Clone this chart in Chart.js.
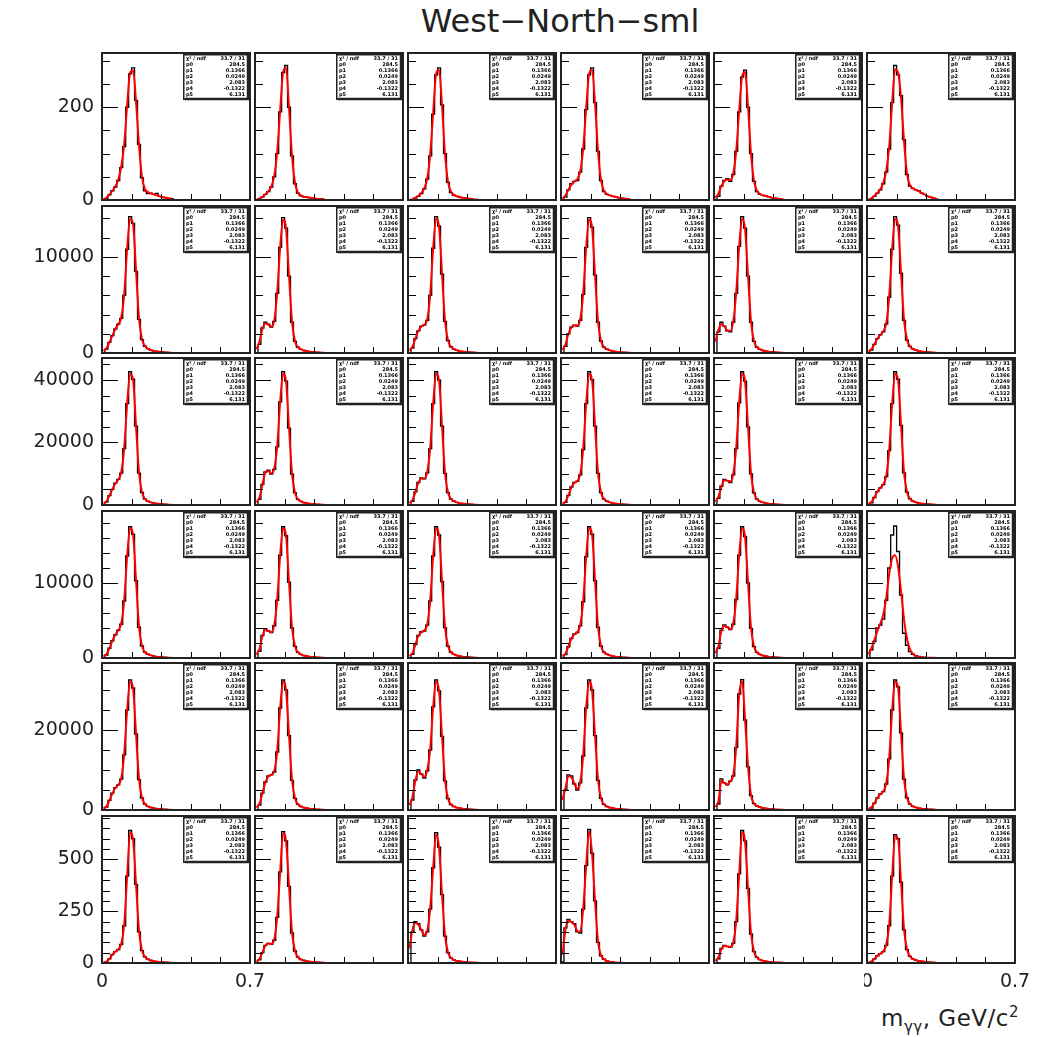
<!DOCTYPE html>
<html>
<head>
<meta charset="utf-8">
<script src="https://cdn.jsdelivr.net/npm/chart.js@4.4.1/dist/chart.umd.min.js"></script>
<style>
  body { margin: 0; background: #fff; width: 1043px; height: 1037px; position: relative; overflow: hidden; font-family: "DejaVu Sans", sans-serif; }
  canvas { position: absolute; }
  #title { position: absolute; left: 560px; top: 5px; transform: translateX(-50%); font-size: 32px; line-height: 32px; color: #222; white-space: nowrap; }
  #xtitle { position: absolute; right: 24px; top: 1007px; font-size: 23px; line-height: 23px; letter-spacing: 0.5px; color: #222; white-space: nowrap; }
  #xtitle sub, #xtitle sup { font-size: 15px; line-height: 0; }
</style>
</head>
<body>
<div id="title">West−North−sml</div>
<div id="xtitle">m<sub>γγ</sub>, GeV/c<sup>2</sup></div>
<script>
// binning and axes
const BIN_W = 0.014;
const X_MIN = 0, X_MAX = 0.7;
const xMinorTicks = [0.14, 0.28, 0.42, 0.56];
const xLabelValues = [0, 0.7];
const xLabelTexts = ["0", "0.7"];
const rowMax = [317, 15300, 47000, 19600, 36750, 710];
const rowMajor = [200, 10000, 20000, 10000, 20000, 250];
const rowMinor = [50, 2000, 5000, 2000, 5000, 50];
const rowLabels = [[0, 200], [0, 10000], [0, 20000, 40000], [0, 10000], [0, 20000], [0, 250, 500]];
const statNames = ["χ² / ndf", "p0", "p1", "p2", "p3", "p4", "p5"];
const statValues = ["33.7 / 31", "284.5", "0.1366", "0.0249", "2.083", "-0.1322", "6.131"];

// row 1
const hist_1_1 = [0,3,11,20,28,42,70,115,200,272,285,215,120,48,20,14,15,12,14,8,6,5,3,3];
const fit_1_1  = [1,5,12,20,29,44,72,120,205,275,280,212,118,50,24,17,14,12,10,8,6,5,4,3];
const hist_1_2 = [0,2,6,12,18,28,50,100,190,275,290,200,95,35,15,9,7,6,5,4,3,2,2,1];
const fit_1_2  = [1,3,7,12,19,29,52,104,193,276,285,198,96,38,16,10,7,6,5,4,3,2,2,1];
const hist_1_3 = [0,1,4,8,14,24,45,95,185,270,285,205,100,38,16,10,8,6,5,4,3,2,1,1];
const fit_1_3  = [0,2,5,9,15,25,47,98,188,272,281,203,100,40,18,11,8,6,5,4,3,2,1,1];
const hist_1_4 = [0,6,22,35,40,42,60,110,195,270,285,210,105,42,18,12,10,8,7,5,4,3,2,1];
const fit_1_4  = [3,10,22,33,40,45,62,112,198,272,281,208,106,44,20,13,10,8,7,5,4,3,2,1];
const hist_1_5 = [0,8,30,42,46,40,55,105,190,265,280,200,100,40,18,12,10,9,7,5,4,3,2,1];
const fit_1_5  = [4,14,30,41,44,43,57,106,192,267,276,200,100,42,20,13,10,9,7,5,4,3,2,1];
const hist_1_6 = [0,2,8,15,22,35,60,110,210,290,270,225,130,55,30,25,22,20,15,12,8,6,4,2];
const fit_1_6  = [1,4,9,15,23,37,63,115,210,282,275,220,128,58,32,25,22,19,15,12,8,6,4,2];

// row 2
const hist_2_1 = [0,400,1100,1800,2500,3000,3600,6000,10800,14200,13500,8500,3500,1400,700,450,300,220,160,120,80,60,40,30];
const fit_2_1  = [200,500,1100,1800,2500,3000,3700,6100,10900,14000,13400,8600,3600,1450,720,460,310,220,160,120,80,60,40,30];
const hist_2_2 = [0,900,2600,3200,3000,2700,3300,6200,11000,14100,13000,8000,3200,1200,600,380,260,190,140,100,70,50,35,25];
const fit_2_2  = [400,1200,2500,3100,2950,2750,3400,6300,11000,13900,12900,8000,3300,1250,620,390,265,190,140,100,70,50,35,25];
const hist_2_3 = [0,500,1500,2300,2800,2900,3400,6000,10900,14200,13200,8200,3300,1300,650,400,280,200,150,110,80,60,40,30];
const fit_2_3  = [250,650,1500,2300,2750,2950,3500,6100,10900,14000,13100,8200,3400,1350,660,410,285,200,150,110,80,60,40,30];
const hist_2_4 = [0,700,2000,2700,2900,2800,3400,6100,11000,14100,13100,8100,3200,1250,620,390,270,190,140,100,75,55,38,28];
const fit_2_4  = [350,900,2000,2650,2850,2850,3500,6200,11000,13900,13000,8100,3300,1300,630,395,272,190,140,100,75,55,38,28];
const hist_2_5 = [0,2200,3200,2800,2300,2200,3200,6200,11100,14200,13000,8000,3200,1200,600,380,260,190,140,100,70,50,35,25];
const fit_2_5  = [1200,2400,3000,2750,2350,2300,3300,6300,11100,14000,12900,8000,3300,1250,620,390,265,190,140,100,70,50,35,25];
const hist_2_6 = [0,300,900,1500,1900,2200,3000,5800,10800,14200,13300,8300,3400,1350,680,420,290,210,150,110,80,60,40,30];
const fit_2_6  = [150,400,900,1500,1900,2250,3100,5900,10800,14000,13200,8300,3500,1400,690,430,295,210,150,110,80,60,40,30];

// row 3
const hist_3_1 = [0,950,3000,5000,7000,8200,10200,18000,32400,42600,40200,25200,10200,4000,1900,1200,840,600,460,340,240,180,120,85];
const fit_3_1  = [480,1200,3000,5000,6850,8150,10450,18250,32400,42000,40000,25200,10450,4100,1980,1220,850,600,460,340,240,180,120,85];
const hist_3_2 = [0,1800,6600,10550,11150,9850,11400,18600,33000,42600,39600,24600,9850,3850,1800,1140,780,580,430,320,230,170,115,80];
const fit_3_2  = [840,2400,6500,10300,10900,10100,11650,18850,33000,42000,39350,24600,10100,3950,1860,1150,790,580,430,320,230,170,115,80];
const hist_3_3 = [0,1200,4200,7200,8650,8400,10300,18000,32400,42600,39950,25200,10100,3950,1900,1200,840,600,460,340,240,180,120,85];
const fit_3_3  = [600,1550,4200,7100,8500,8500,10550,18250,32400,42000,39700,25200,10300,4100,1980,1220,850,600,460,340,240,180,120,85];
const hist_3_4 = [0,840,3100,5750,7200,7550,9600,17750,32400,42600,40100,25200,10100,3950,1900,1200,840,600,460,340,240,180,120,85];
const fit_3_4  = [420,1080,3100,5650,7100,7700,9850,18000,32400,42000,39850,25200,10300,4100,1980,1220,850,600,460,340,240,180,120,85];
const hist_3_5 = [0,2150,6000,8150,7800,7200,9600,18000,32650,42600,39600,24950,9950,3850,1860,1180,820,590,440,320,230,170,115,80];
const fit_3_5  = [1080,2650,5900,7900,7800,7450,9850,18250,32650,42000,39350,24950,10200,3950,1920,1190,830,590,440,320,230,170,115,80];
const hist_3_6 = [0,720,2400,4300,5500,6500,9100,17400,32400,42600,40200,25450,10300,4100,1980,1260,860,620,470,350,250,190,130,90];
const fit_3_6  = [360,960,2400,4300,5500,6600,9350,17650,32400,42000,39950,25450,10550,4200,2040,1270,880,620,470,350,250,190,130,90];

// row 4
const hist_4_1 = [0,400,1300,2300,3100,3700,4500,7600,13600,17500,16500,10300,4100,1600,780,500,340,250,180,130,95,70,48,34];
const fit_4_1  = [200,500,1300,2300,3100,3700,4600,7700,13600,17300,16400,10300,4200,1650,790,505,345,250,180,130,95,70,48,34];
const hist_4_2 = [0,900,3000,3900,3600,3400,4300,7700,13700,17500,16300,10100,4000,1550,760,480,330,240,175,125,90,65,45,32];
const fit_4_2  = [450,1200,2900,3800,3600,3450,4400,7800,13700,17300,16200,10100,4100,1600,770,485,335,240,175,125,90,65,45,32];
const hist_4_3 = [0,500,1800,3000,3500,3600,4400,7600,13600,17500,16400,10200,4050,1580,770,490,335,245,178,128,92,67,47,33];
const fit_4_3  = [250,650,1800,2950,3450,3650,4500,7700,13600,17300,16300,10200,4150,1620,780,495,340,245,178,128,92,67,47,33];
const hist_4_4 = [0,450,1500,2600,3200,3400,4300,7500,13500,17500,16500,10300,4100,1600,780,500,340,250,180,130,95,70,48,34];
const fit_4_4  = [220,600,1500,2600,3150,3450,4400,7600,13500,17300,16400,10300,4200,1650,790,505,345,250,180,130,95,70,48,34];
const hist_4_5 = [0,1300,3700,4400,4100,3800,4500,7800,13700,17500,16200,10000,3950,1530,750,480,330,240,175,125,90,65,45,32];
const fit_4_5  = [650,1600,3600,4300,4100,3850,4600,7900,13700,17300,16100,10000,4050,1580,760,485,335,240,175,125,90,65,45,32];
const hist_4_6 = [0,1100,2200,4000,4400,5200,7700,12000,16400,17600,14200,8400,3300,1700,840,500,300,200,130,90,60,40,25,15];
const fit_4_6  = [500,1300,2400,3600,4600,5800,8000,11200,13300,13700,12200,8900,5200,2600,1200,550,280,150,90,60,40,28,18,10];

// row 5
const hist_5_1 = [0,700,2400,4200,5600,6300,7700,13800,25000,32500,30500,19000,7600,3000,1450,900,620,450,330,240,175,130,90,65];
const fit_5_1  = [350,900,2400,4100,5500,6300,7900,14000,25000,32100,30300,19000,7800,3100,1500,910,630,450,330,240,175,130,90,65];
const hist_5_2 = [0,1200,4200,7000,8500,8800,9500,14500,25500,32500,30000,18600,7400,2900,1400,880,600,440,320,235,170,125,88,63];
const fit_5_2  = [600,1600,4200,6900,8400,8800,9700,14700,25500,32100,29800,18600,7600,3000,1450,890,610,440,320,235,170,125,88,63];
const hist_5_3 = [0,2500,7500,10000,9000,8000,9800,15000,25800,32500,29800,18400,7300,2850,1380,870,600,440,320,235,170,125,88,63];
const fit_5_3  = [1200,3200,7400,9600,9000,8300,10000,15200,25800,32100,29600,18400,7500,2950,1420,880,610,440,320,235,170,125,88,63];
const hist_5_4 = [0,5000,8800,8500,6500,5000,6800,13500,25500,32500,30000,18600,7400,2900,1400,880,600,440,320,235,170,125,88,63];
const fit_5_4  = [2500,5500,8500,8200,6600,5300,7000,13700,25500,32100,29800,18600,7600,3000,1450,890,610,440,320,235,170,125,88,63];
const hist_5_5 = [0,1500,7800,6800,6300,7200,8500,15600,29000,32600,22500,10800,3600,1600,1000,700,500,380,280,200,150,110,80,55];
const fit_5_5  = [750,2200,7300,6800,6400,7200,8700,15800,28800,32200,22600,10900,3800,1650,1020,710,505,380,280,200,150,110,80,55];
const hist_5_6 = [0,500,1700,3000,4000,4600,6500,12800,25000,32500,30800,19300,7700,3050,1480,920,640,460,340,250,180,135,95,68];
const fit_5_6  = [250,700,1700,3000,3950,4650,6700,13000,25000,32100,30600,19300,7900,3150,1520,930,650,460,340,250,180,135,95,68];

// row 6
const hist_6_1 = [0,5,20,40,55,65,90,180,420,640,600,380,150,60,30,18,12,9,7,5,4,3,2,1];
const fit_6_1  = [2,7,20,40,55,66,92,185,420,632,595,380,155,62,31,18,12,9,7,5,4,3,2,1];
const hist_6_2 = [0,15,50,85,95,90,110,220,440,635,590,370,145,58,28,17,12,9,7,5,4,3,2,1];
const fit_6_2  = [7,20,50,83,94,92,113,225,440,627,585,370,150,60,29,17,12,9,7,5,4,3,2,1];
const hist_6_3 = [0,150,200,190,160,130,150,260,460,630,560,330,130,50,25,15,10,8,6,4,3,2,2,1];
const fit_6_3  = [70,160,195,185,160,135,155,265,460,622,555,330,135,52,26,15,10,8,6,4,3,2,2,1];
const hist_6_4 = [5,170,210,200,190,150,145,260,470,645,530,300,100,35,18,10,6,4,2,1,1,0,0,0];
const fit_6_4  = [40,160,205,198,185,155,150,265,470,637,527,300,105,38,19,10,6,4,2,1,1,0,0,0];
const hist_6_5 = [0,20,70,85,80,75,95,200,430,640,590,360,140,55,27,16,11,8,6,4,3,2,2,1];
const fit_6_5  = [10,28,68,83,80,77,98,205,430,632,585,360,145,57,28,16,11,8,6,4,3,2,2,1];
const hist_6_6 = [0,5,20,35,45,55,85,180,420,620,600,390,160,65,32,20,14,10,8,6,4,3,2,1];
const fit_6_6  = [2,8,20,35,45,56,88,185,420,614,598,390,165,67,33,20,14,10,8,6,4,3,2,1];

const histRows = [
  [hist_1_1, hist_1_2, hist_1_3, hist_1_4, hist_1_5, hist_1_6],
  [hist_2_1, hist_2_2, hist_2_3, hist_2_4, hist_2_5, hist_2_6],
  [hist_3_1, hist_3_2, hist_3_3, hist_3_4, hist_3_5, hist_3_6],
  [hist_4_1, hist_4_2, hist_4_3, hist_4_4, hist_4_5, hist_4_6],
  [hist_5_1, hist_5_2, hist_5_3, hist_5_4, hist_5_5, hist_5_6],
  [hist_6_1, hist_6_2, hist_6_3, hist_6_4, hist_6_5, hist_6_6]
];
const fitRows = [
  [fit_1_1, fit_1_2, fit_1_3, fit_1_4, fit_1_5, fit_1_6],
  [fit_2_1, fit_2_2, fit_2_3, fit_2_4, fit_2_5, fit_2_6],
  [fit_3_1, fit_3_2, fit_3_3, fit_3_4, fit_3_5, fit_3_6],
  [fit_4_1, fit_4_2, fit_4_3, fit_4_4, fit_4_5, fit_4_6],
  [fit_5_1, fit_5_2, fit_5_3, fit_5_4, fit_5_5, fit_5_6],
  [fit_6_1, fit_6_2, fit_6_3, fit_6_4, fit_6_5, fit_6_6]
];

// pad layout
const colLeft = [102, 255, 408, 561, 714, 867];
const rowTop = [53, 206, 358, 511, 663, 816];
const PAD_W = 148, PAD_H = 147;

// ticks, frame, stat box, labels
const panelDeco = {
  id: 'panelDeco',
  afterDatasetsDraw(chart, args, o) {
    const { ctx, chartArea: a, scales: { x, y } } = chart;
    ctx.save();
    ctx.strokeStyle = '#000';
    ctx.lineWidth = 1;
    // y ticks
    for (let v = 0; v <= rowMax[o.row]; v += rowMinor[o.row]) {
      const py = Math.round(y.getPixelForValue(v)) + 0.5;
      const major = v % rowMajor[o.row] === 0;
      ctx.beginPath();
      ctx.moveTo(a.left, py);
      ctx.lineTo(a.left + (major ? 16 : 8), py);
      ctx.stroke();
    }
    // x ticks
    xMinorTicks.forEach(v => {
      const px = Math.round(x.getPixelForValue(v)) + 0.5;
      ctx.beginPath();
      ctx.moveTo(px, a.bottom);
      ctx.lineTo(px, a.bottom - 6);
      ctx.stroke();
    });
    // stat box
    const bx = a.left + 81, by = a.top + 1, bw = a.right - bx - 1, bh = 46;
    ctx.fillStyle = '#fff';
    ctx.fillRect(bx, by, bw, bh);
    ctx.lineWidth = 1.5;
    ctx.strokeStyle = '#222';
    ctx.strokeRect(bx + 0.75, by + 0.75, bw - 1.5, bh - 1.5);
    ctx.lineWidth = 2.5;
    ctx.beginPath();
    ctx.moveTo(bx + 2, by + bh - 1);
    ctx.lineTo(bx + bw - 1, by + bh - 1);
    ctx.lineTo(bx + bw - 1, by + 1);
    ctx.stroke();
    ctx.fillStyle = '#000';
    ctx.font = 'bold 5px "DejaVu Sans"';
    ctx.textBaseline = 'middle';
    statNames.forEach((s, i) => {
      const ly = by + 4.5 + i * 6.1;
      ctx.textAlign = 'left';
      ctx.fillText(s, bx + 3, ly);
      ctx.textAlign = 'right';
      ctx.fillText(statValues[i], bx + bw - 4, ly);
    });
    // frame
    ctx.lineWidth = 2;
    ctx.strokeStyle = '#222';
    ctx.strokeRect(a.left, a.top, a.right - a.left, a.bottom - a.top);
    // labels
    ctx.fillStyle = '#222';
    ctx.font = '19px "DejaVu Sans"';
    if (o.col === 0) {
      ctx.textAlign = 'right';
      ctx.textBaseline = 'middle';
      rowLabels[o.row].forEach(v => ctx.fillText(String(v), a.left - 8, y.getPixelForValue(v)));
    }
    if (o.row === 5 && (o.col === 0 || o.col === 5)) {
      ctx.textAlign = 'center';
      ctx.textBaseline = 'top';
      xLabelValues.forEach((v, i) => ctx.fillText(xLabelTexts[i], x.getPixelForValue(v), a.bottom + 10));
    }
    ctx.restore();
  }
};

for (let r = 0; r < 6; r++) {
  for (let c = 0; c < 6; c++) {
    const padL = c === 0 ? 100 : 3;
    const padR = r === 5 ? 24 : 3;
    const padT = c === 0 ? 14 : 3;
    const padB = r === 5 ? 40 : (c === 0 ? 14 : 3);
    const cv = document.createElement('canvas');
    cv.width = PAD_W + padL + padR;
    cv.height = PAD_H + padT + padB;
    cv.style.left = (colLeft[c] - padL) + 'px';
    cv.style.top = (rowTop[r] - padT) + 'px';
    document.body.appendChild(cv);

    const h = histRows[r][c], f = fitRows[r][c];
    const histPts = h.map((v, i) => ({ x: i * BIN_W, y: v }));
    histPts.push({ x: h.length * BIN_W, y: 0 }, { x: X_MAX, y: 0 });
    const fitPts = f.map((v, i) => ({ x: (i + 0.5) * BIN_W, y: v }));

    new Chart(cv, {
      type: 'line',
      data: {
        datasets: [
          { data: fitPts, borderColor: '#ff0000', borderWidth: 2, pointRadius: 0, cubicInterpolationMode: 'monotone', order: 0 },
          { data: histPts, borderColor: '#000', borderWidth: 1.3, pointRadius: 0, stepped: 'before', order: 1 }
        ]
      },
      options: {
        responsive: false,
        animation: false,
        devicePixelRatio: 1,
        layout: { padding: { left: padL, right: padR, top: padT, bottom: padB } },
        plugins: { legend: { display: false }, tooltip: { enabled: false }, panelDeco: { row: r, col: c } },
        scales: {
          x: { type: 'linear', min: X_MIN, max: X_MAX, display: false },
          y: { type: 'linear', min: 0, max: rowMax[r], display: false }
        }
      },
      plugins: [panelDeco]
    });
  }
}
</script>
</body>
</html>
